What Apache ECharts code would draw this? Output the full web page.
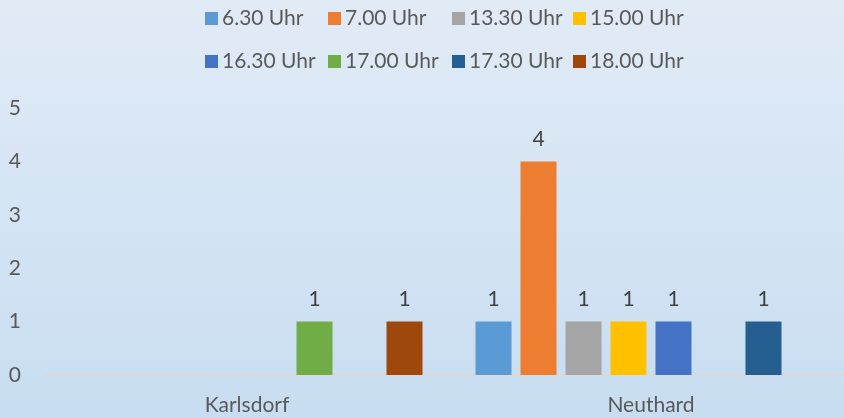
<!DOCTYPE html>
<html>
<head>
<meta charset="utf-8">
<script src="https://cdn.jsdelivr.net/npm/echarts@6/dist/echarts.min.js"></script>
<style>
  html, body { margin: 0; padding: 0; overflow: hidden; }
  /* plot runs past the right edge in the original, so the canvas is a bit wider than the window */
  #chart { width: 853px; height: 418px; }
</style>
</head>
<body>
<div id="chart"></div>
<script>
  var categories = ['Karlsdorf', 'Neuthard']
  var seriesNames = ['6.30 Uhr', '7.00 Uhr', '13.30 Uhr', '15.00 Uhr', '16.30 Uhr', '17.00 Uhr', '17.30 Uhr', '18.00 Uhr']
  var uhr0630 = [null, 1]
  var uhr0700 = [null, 4]
  var uhr1330 = [null, 1]
  var uhr1500 = [null, 1]
  var uhr1630 = [null, 1]
  var uhr1700 = [1, null]
  var uhr1730 = [null, 1]
  var uhr1800 = [1, null]
  var values = [uhr0630, uhr0700, uhr1330, uhr1500, uhr1630, uhr1700, uhr1730, uhr1800]
  var colors = ['#5B9BD5', '#ED7D31', '#A5A5A5', '#FFC000', '#4472C4', '#70AD47', '#255E91', '#9E480E']
  var yTicks = [0, 1, 2, 3, 4, 5]

  var font = 'Lato, "Noto Sans", sans-serif'
  var legendLeft = [200, 323, 447, 568]

  var legends = seriesNames.map(function (name, i) {
    return {
      data: [{ name: name, icon: 'rect' }],
      left: legendLeft[i % 4],
      top: i < 4 ? 3 : 46,
      itemWidth: 13,
      itemHeight: 13,
      itemGap: 0,
      textStyle: { fontFamily: font, fontSize: 21, color: '#595959', padding: [0, 0, 0, -1] },
      selectedMode: false
    }
  })

  var series = seriesNames.map(function (name, i) {
    return {
      name: name,
      type: 'bar',
      data: values[i],
      barWidth: 36,
      barGap: '25%',
      itemStyle: { color: colors[i] },
      label: {
        show: true,
        position: 'top',
        distance: 12,
        fontFamily: font,
        fontSize: 21,
        color: '#404040'
      },
      animation: false
    }
  })

  var myChart = echarts.init(document.getElementById('chart'))
  myChart.setOption({
    backgroundColor: new echarts.graphic.LinearGradient(0, 0, 0, 1, [
      { offset: 0, color: '#e1ebf6' },
      { offset: 1, color: '#c8ddf1' }
    ]),
    legend: legends,
    grid: { left: 45, right: 0, top: 108, bottom: 43, containLabel: false },
    xAxis: {
      type: 'category',
      data: categories,
      axisLine: { lineStyle: { color: '#d9d9d9', width: 2 } },
      axisTick: { show: false },
      axisLabel: { fontFamily: font, fontSize: 21, color: '#595959', margin: 20 }
    },
    yAxis: {
      type: 'value',
      min: yTicks[0],
      max: yTicks[yTicks.length - 1],
      interval: 1,
      axisLine: { show: false },
      axisTick: { show: false },
      splitLine: { show: false },
      axisLabel: { fontFamily: font, fontSize: 21, color: '#595959', margin: 24 }
    },
    series: series
  })
</script>
</body>
</html>
